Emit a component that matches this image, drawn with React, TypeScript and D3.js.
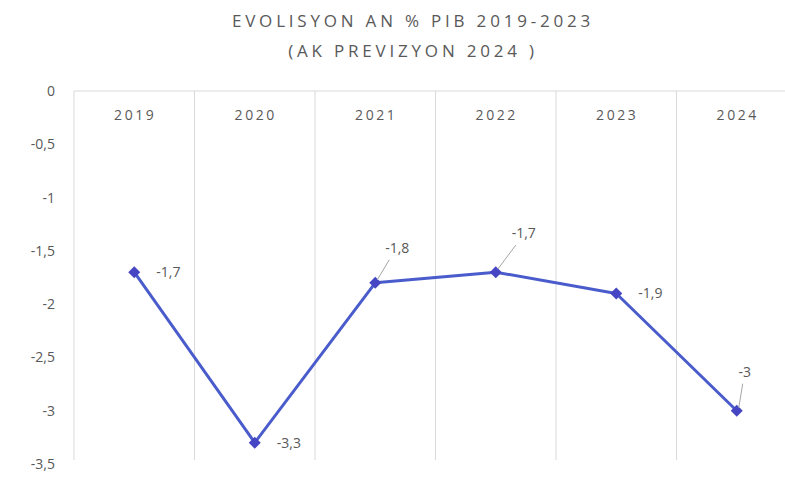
import React from "react";
import * as d3 from "d3";

const categories = ["2019", "2020", "2021", "2022", "2023", "2024"];
const values = [-1.7, -3.3, -1.8, -1.7, -1.9, -3];
const yTicks = [0, -0.5, -1, -1.5, -2, -2.5, -3, -3.5];
const titleLines = ["EVOLISYON AN % PIB 2019-2023", "(AK PREVIZYON 2024 )"];

const W = 785, H = 477;
const left = 74, top = 91, bottom = 464, step = 120.5;

const fmt = (v: number) => String(v).replace(".", ",");

const labelPos = [
  { dx: 22, dy: 5, anchor: "start", leader: false },
  { dx: 22, dy: 5, anchor: "start", leader: false },
  { dx: 22, dy: -30, anchor: "middle", leader: true },
  { dx: 28, dy: -34, anchor: "middle", leader: true },
  { dx: 22, dy: 5, anchor: "start", leader: false },
  { dx: 8, dy: -34, anchor: "middle", leader: true },
];

export default function App() {
  const x = d3
    .scaleBand<string>()
    .domain(categories)
    .range([left, left + step * categories.length])
    .padding(0);
  const y = d3.scaleLinear().domain([0, -3.5]).range([top, bottom]);
  const line = d3
    .line<number>()
    .x((_, i) => (x(categories[i]) as number) + x.bandwidth() / 2)
    .y((d) => y(d));
  const font = "'Open Sans', 'Noto Sans', sans-serif";
  const gray = "#595959";
  return (
    <svg width={W} height={H} style={{ position: "absolute", left: 0, top: 0, background: "#fff" }} fontFamily={font}>
      <rect x={0} y={0} width={W} height={H} fill="#fff" />
      {titleLines.map((t, i) => (
        <text key={i} x={413} y={27 + i * 30} textAnchor="middle" fontSize={17} letterSpacing={3.8} fill={gray}>
          {t}
        </text>
      ))}
      <line x1={left} x2={W} y1={top} y2={top} stroke="#d9d9d9" strokeWidth={1} />
      {categories.map((c) => (
        <line key={c} x1={x(c)} x2={x(c)} y1={top} y2={bottom - 4} stroke="#d9d9d9" strokeWidth={1} />
      ))}
      {yTicks.map((t) => (
        <text key={t} x={55} y={y(t) + 5} textAnchor="end" fontSize={14} fill={gray}>
          {fmt(t)}
        </text>
      ))}
      {categories.map((c) => (
        <text key={c} x={(x(c) as number) + x.bandwidth() / 2 + 1} y={120} textAnchor="middle" fontSize={14} letterSpacing={2.6} fill={gray}>
          {c}
        </text>
      ))}
      <path d={line(values) as string} fill="none" stroke="#4a5ccb" strokeWidth={3} strokeLinejoin="round" />
      {values.map((v, i) => {
        const cx = (x(categories[i]) as number) + x.bandwidth() / 2;
        const cy = y(v);
        const p = labelPos[i];
        return (
          <g key={i}>
            <path d={`M${cx},${cy - 6}L${cx + 6},${cy}L${cx},${cy + 6}L${cx - 6},${cy}Z`} fill="#4646c4" />
            {p.leader && (
              <line x1={cx + 2} y1={cy - 3} x2={cx + p.dx - (p.dx > 15 ? 8 : 2)} y2={cy + p.dy + 7} stroke="#a6a6a6" strokeWidth={1} />
            )}
            <text x={cx + p.dx} y={cy + p.dy} textAnchor={p.anchor as any} fontSize={14} fill={gray}>
              {fmt(v)}
            </text>
          </g>
        );
      })}
    </svg>
  );
}
